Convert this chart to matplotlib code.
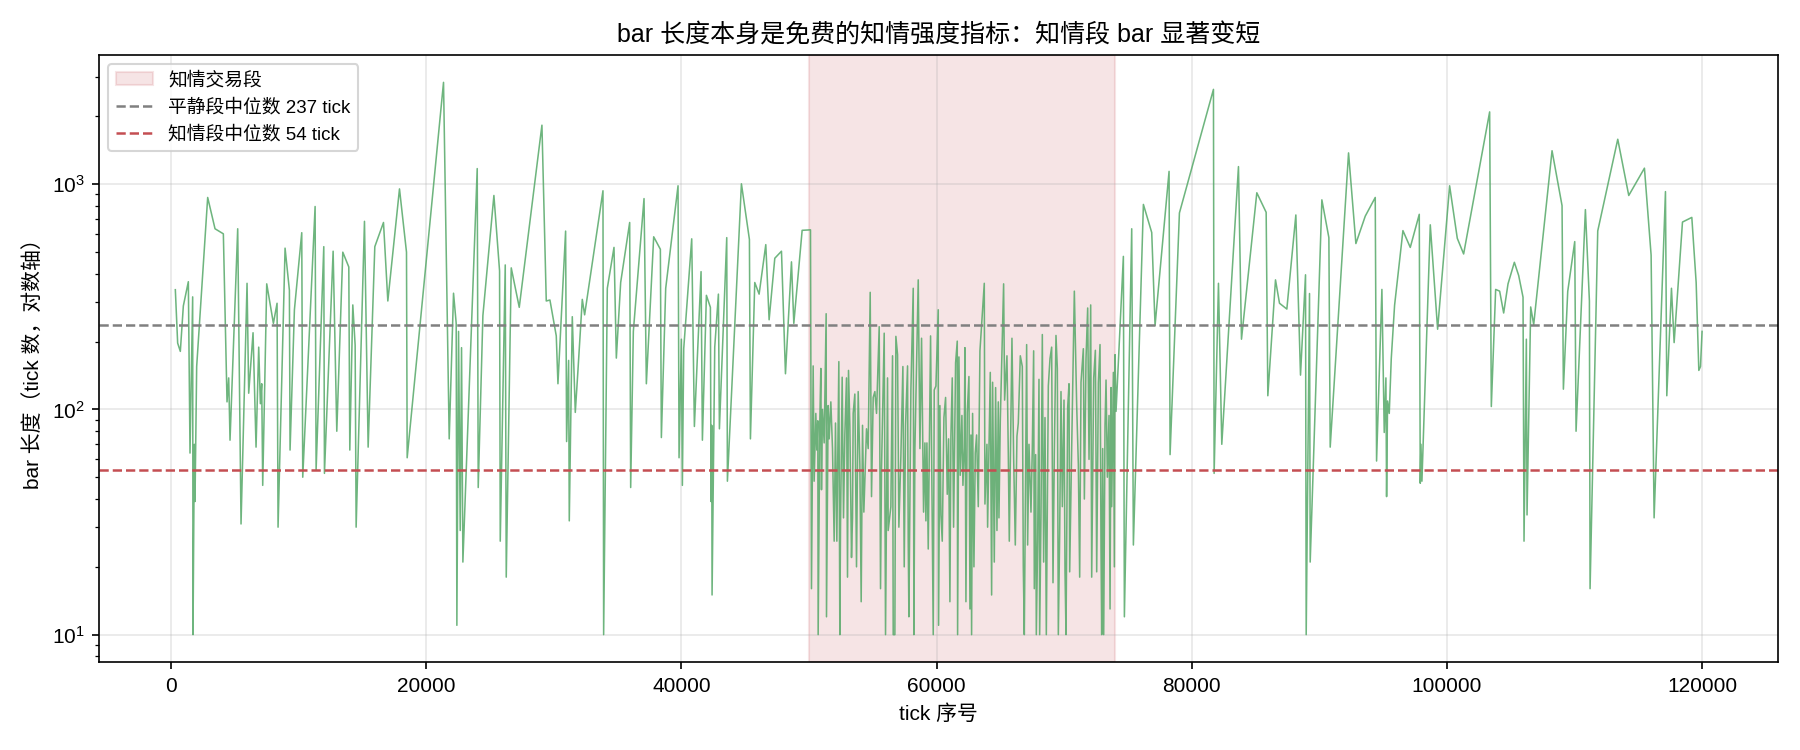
import matplotlib
matplotlib.use("Agg")
from matplotlib import pyplot as plt
import numpy as np

plt.rcParams['font.family'] = ['Liberation Sans', 'Noto Sans CJK SC', 'DejaVu Sans']
plt.rcParams['axes.unicode_minus'] = False

# quiet segment before the informed window: (tick index at bar end, bar length)
pre_tick = [340, 522, 731, 967, 1359, 1490, 1698, 1725, 1829, 1881, 2012, 2274, 2875, 3450,
            4103, 4391, 4522, 4626, 5228, 5489, 5960, 6090, 6430, 6665, 6874, 7005, 7109, 7188,
            7502, 8025, 8312, 8390, 8940, 9279, 9331, 9672, 10247, 10325, 11294, 11372, 11974,
            12026, 12706, 12993, 13464, 13934, 14013, 14248, 14431, 14509, 15163, 15450, 15973,
            16653, 16993, 17907, 18456, 18509, 21358, 21803, 22142, 22351, 22404, 22535, 22666,
            22770, 22875, 23999, 24077, 24443, 25306, 25750, 25803, 26195, 26273, 26665, 27293,
            29070, 29410, 29697, 30194, 30325, 30926, 31004, 31161, 31213, 31449, 31684, 31893,
            32233, 32416, 33854, 33906, 34194, 34718, 34901, 35241, 35947, 36025, 36234, 37071,
            37254, 37829, 38352, 38430, 38770, 39737, 39816, 39999, 40077, 40182, 40809, 41018,
            41541, 41646, 41959, 42273, 42325, 42377, 42404, 42613, 42900, 42979, 43554, 43606,
            44704, 45331, 45410, 45750, 46091, 46614, 46875, 47320, 47843, 48156, 48627, 48810,
            49463, 50117]
pre_len = [340, 197, 181, 288, 369, 64, 316, 10, 70, 39, 155, 261, 873, 634,
           602, 108, 138, 73, 634, 31, 363, 118, 219, 68, 189, 106, 130, 46,
           361, 241, 296, 30, 520, 338, 66, 277, 609, 50, 796, 54, 528,
           52, 504, 80, 499, 429, 66, 291, 193, 30, 684, 68, 528,
           676, 303, 953, 499, 61, 2832, 74, 328, 241, 11, 222, 29,
           188, 21, 1173, 45, 261, 891, 412, 26, 438, 18, 425, 284,
           1828, 303, 306, 212, 130, 619, 72, 165, 32, 258, 97, 149,
           308, 263, 935, 10, 345, 524, 169, 366, 676, 45, 222, 863,
           130, 584, 514, 75, 345, 984, 61, 205, 46, 186, 572, 84,
           409, 73, 321, 284, 39, 85, 15, 189, 325, 82, 579, 48,
           1004, 568, 74, 366, 325, 539, 250, 469, 504, 144, 452, 241,
           624, 627]

# informed trading window
inf_tick = [50195, 50326, 50404, 50535, 50613, 50692, 50718, 50849, 50927, 50979, 51058, 51189,
            51345, 51372, 51502, 51581, 51712, 51842, 51973, 52077, 52182, 52339, 52417, 52469,
            52600, 52705, 52809, 52940, 53018, 53097, 53201, 53332, 53410, 53463, 53593, 53724,
            53855, 53986, 54090, 54195, 54299, 54508, 54639, 54796, 54900, 55031, 55162, 55293,
            55502, 55606, 55685, 55894, 55998, 56155, 56207, 56416, 56547, 56600, 56730, 56809,
            56940, 57044, 57201, 57358, 57463, 57567, 57724, 57777, 57829, 57986,
            58169, 58221, 58300, 58561, 58692, 58822, 58979, 59084, 59162, 59241, 59345, 59528,
            59737, 59816, 59946, 60129, 60156, 60260, 60339, 60443, 60574, 60705, 60835, 60940,
            61044, 61123, 61227, 61332, 61489, 61619, 61646, 61750, 61855, 61985, 62064, 62168,
            62221, 62299, 62404, 62534, 62613, 62691, 62743, 62822, 62926, 63031, 63136, 63266,
            63397, 63737, 63789, 63946, 63998, 64103, 64207, 64312, 64390, 64521, 64625, 64730,
            64835, 64887, 64992, 65253, 65331, 65514, 65619, 65697, 65906, 66037, 66168, 66298,
            66403, 66560, 66717, 66795, 66874, 66978, 67057, 67135, 67240, 67397, 67501, 67606,
            67658, 67763, 67815, 67920, 68024, 68077, 68181, 68286, 68390, 68495, 68599, 68756,
            68887, 69017, 69122, 69226, 69357, 69462, 69540, 69645, 69749,
            69854, 69985, 70064, 70142, 70273, 70377, 70430, 70586, 70795, 70979, 71109, 71214,
            71318, 71501, 71580, 71710, 71841, 71946, 72076, 72155, 72312, 72443, 72547, 72678,
            72808, 72887, 72939, 73017, 73096, 73200, 73279, 73383, 73514, 73593, 73671, 73723,
            73854, 73932, 73985, 74063]
inf_len = [16, 156, 48, 96, 66, 89, 10, 89, 152, 44, 100, 71,
           266, 12, 104, 74, 108, 67, 26, 87, 26, 163, 10, 30,
           139, 33, 77, 138, 18, 149, 85, 22, 33, 96, 117, 20,
           120, 57, 14, 85, 35, 82, 67, 331, 41, 113, 120, 96,
           233, 16, 55, 218, 10, 138, 29, 37, 173, 10, 10, 211,
           175, 30, 62, 155, 20, 85, 156, 26, 12, 122,
           345, 10, 67, 376, 67, 207, 35, 71, 32, 71, 24, 212,
           10, 122, 127, 277, 11, 104, 34, 26, 92, 113, 42, 74,
           14, 76, 138, 30, 161, 201, 10, 171, 51, 94, 46, 67,
           188, 14, 97, 140, 13, 77, 10, 96, 20, 64, 77, 37,
           182, 363, 38, 70, 30, 67, 146, 15, 132, 21, 125, 29,
           108, 33, 89, 361, 110, 173, 64, 26, 207, 62, 25, 76,
           87, 173, 155, 20, 10, 53, 194, 25, 70, 35, 67, 182,
           16, 63, 10, 26, 136, 10, 33, 215, 21, 92, 10, 127,
           168, 189, 17, 64, 213, 152, 10, 28, 120,
           37, 110, 19, 10, 102, 130, 19, 67, 335, 104, 57, 18,
           132, 186, 40, 168, 282, 60, 291, 18, 138, 183, 19, 131,
           194, 24, 10, 67, 10, 85, 135, 50, 94, 13, 125, 37,
           146, 20, 175, 98]

# quiet segment after the informed window
post_tick = [74638, 74717, 75292, 75422, 76207, 76860, 77121, 78219, 78298, 79030, 81698, 81750,
             82090, 82351, 83658, 83894, 85096, 85828, 85959, 86560, 86874, 87449, 88155, 88520,
             88913, 88965, 89226, 89279, 90194, 90743, 90847, 92285, 92860, 93593, 94377, 94481,
             94899, 95082, 95213, 95266, 95344, 95475, 95632, 95893, 96547, 97122, 97827, 97906,
             97958, 98036, 98690, 99265, 100206, 100807, 101304, 103343, 103474, 103814, 104127,
             104441, 104783, 105279, 105619, 105959, 106037, 106220, 106273, 106560, 106795,
             108233, 109017, 109122, 109462, 110011, 110115, 110847, 111161, 111213, 111814,
             113383, 114245, 115474, 115997, 116232, 117122, 117226, 117592, 117801, 118455,
             119187, 119527, 119736, 119867, 119990]
post_len = [478, 12, 634, 25, 813, 610, 236, 1140, 63, 745, 2636, 52,
            363, 70, 1197, 205, 916, 750, 115, 376, 296, 279, 730, 142,
            396, 10, 327, 21, 852, 579, 68, 1377, 545, 721, 873, 59,
            341, 79, 138, 41, 109, 96, 168, 290, 622, 524, 735, 47,
            70, 48, 660, 227, 984, 575, 490, 2094, 103, 341, 335,
            268, 361, 450, 393, 315, 26, 205, 34, 285, 238,
            1408, 803, 123, 334, 556, 80, 771, 303, 16, 620,
            1583, 891, 1178, 484, 33, 927, 115, 345, 198, 679,
            712, 366, 149, 155, 222]

inf_start, inf_end = 50000, 74000
quiet_median = 237
inf_median = 54

ticks = np.array(pre_tick + inf_tick + post_tick)
lengths = np.array(pre_len + inf_len + post_len)

fig, ax = plt.subplots(figsize=(12, 5), dpi=150)
ax.plot(ticks, lengths, color='#55a868', lw=0.75, alpha=0.85)
ax.axvspan(inf_start, inf_end, color='#c44e52', alpha=0.15, label='知情交易段')
ax.axhline(quiet_median, color='gray', ls='--', lw=1.2, label=f'平静段中位数 {quiet_median} tick')
ax.axhline(inf_median, color='#c44e52', ls='--', lw=1.2, label=f'知情段中位数 {inf_median} tick')
ax.set_yscale('log')
ax.set_xlabel('tick 序号')
ax.set_ylabel('bar 长度（tick 数，对数轴）')
ax.set_title('bar 长度本身是免费的知情强度指标：知情段 bar 显著变短', fontsize=12)
ax.grid(True, alpha=0.3)
ax.legend(loc='upper left', fontsize=9)

plt.subplots_adjust(left=0.055, right=0.988, top=0.927, bottom=0.117)
plt.savefig('out.png')
